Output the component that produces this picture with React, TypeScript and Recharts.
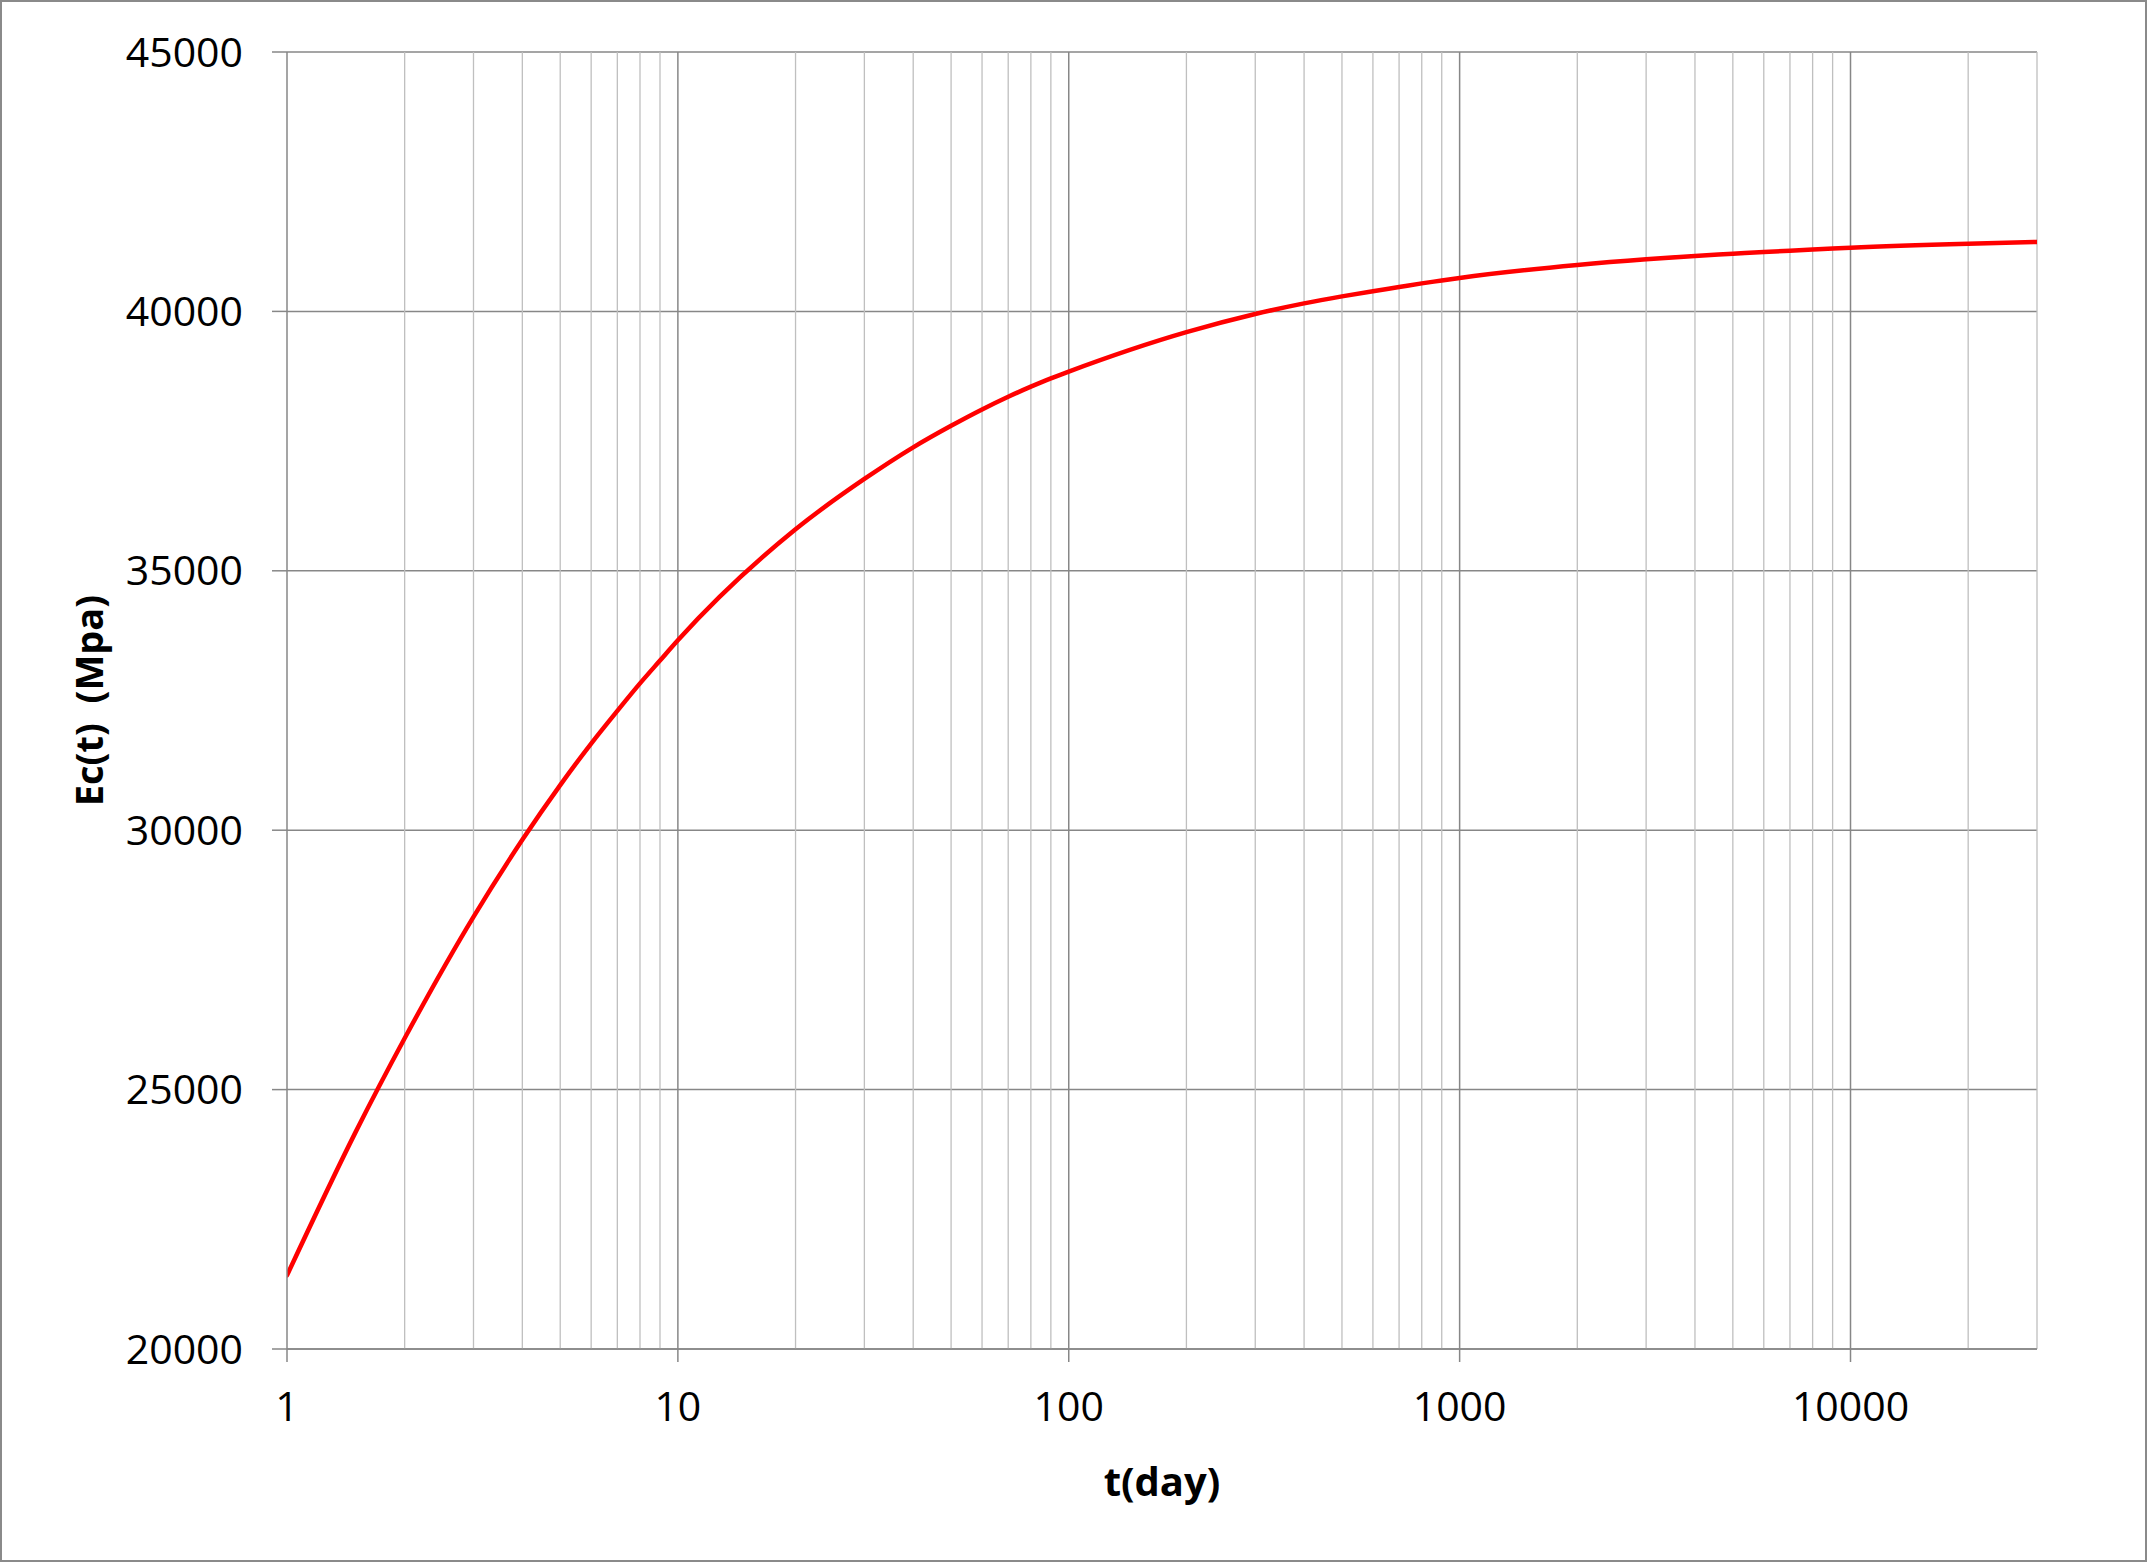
import { LineChart, Line, XAxis, YAxis, CartesianGrid, ReferenceLine, Label } from "recharts";

// t (day)
const days = [
  1, 1.5, 2, 3, 4, 5, 6, 7, 8, 9, 10, 20, 30, 40, 50, 60, 70, 80, 90, 100, 200, 300, 400, 500, 600, 700, 800,
  900, 1000, 2000, 3000, 4000, 5000, 6000, 7000, 8000, 9000, 10000, 20000, 30000,
];
// Ec(t) in Mpa
const modulus = [
  21420, 24190, 25990, 28330, 29815, 30870, 31670, 32300, 32830, 33270, 33660, 35800, 36770, 37380, 37795,
  38110, 38355, 38550, 38710, 38840, 39600, 39950, 40155, 40290, 40390, 40470, 40540, 40595, 40645, 40895,
  41005, 41070, 41110, 41145, 41170, 41192, 41212, 41228, 41305, 41338,
];

const xTicks = [1, 10, 100, 1000, 10000];
const yTicks = [20000, 25000, 30000, 35000, 40000, 45000];
const majorVerticals = [10, 100, 1000, 10000];
const minorVerticals = [
  2, 3, 4, 5, 6, 7, 8, 9, 20, 30, 40, 50, 60, 70, 80, 90, 200, 300, 400, 500, 600, 700, 800, 900, 2000, 3000,
  4000, 5000, 6000, 7000, 8000, 9000, 20000, 30000,
];

const data = days.map((t, i) => ({ t, e: modulus[i] }));

const MAJOR = "#878787";
const MINOR = "#bfbfbf";
const FONT = "'Open Sans', sans-serif";

const YTitle = (props: any) => {
  const vb = props.viewBox;
  const x = vb.x + 86;
  const y = vb.y + vb.height / 2;
  return (
    <text
      x={x}
      y={y}
      transform={`rotate(-90, ${x}, ${y})`}
      textAnchor="middle"
      dominantBaseline="central"
      style={{ whiteSpace: "pre" }}
      fontFamily={FONT}
      fontWeight={700}
      fontSize={38}
      fill="#000"
    >
      {"Ec(t)  (Mpa)"}
    </text>
  );
};

const XTitle = (props: any) => {
  const vb = props.viewBox;
  return (
    <text
      x={vb.x + vb.width / 2}
      y={vb.y + 131}
      textAnchor="middle"
      dominantBaseline="central"
      fontFamily={FONT}
      fontWeight={700}
      fontSize={40}
      fill="#000"
    >
      t(day)
    </text>
  );
};

export default function App() {
  return (
    <div
      style={{
        position: "absolute",
        left: 0,
        top: 0,
        width: 2147,
        height: 1562,
        border: "2px solid #8a8a8a",
        boxSizing: "border-box",
        background: "#fff",
      }}
    >
      <LineChart width={2143} height={1558} data={data} margin={{ top: 50, right: 108, left: 0, bottom: 100 }}>
        {minorVerticals.map((v) => (
          <ReferenceLine key={"m" + v} x={v} stroke={MINOR} strokeWidth={1.3} />
        ))}
        {majorVerticals.map((v) => (
          <ReferenceLine key={"M" + v} x={v} stroke={MAJOR} strokeWidth={1.5} />
        ))}
        <CartesianGrid vertical={false} stroke={MAJOR} strokeWidth={1.5} />
        <XAxis
          dataKey="t"
          type="number"
          scale="log"
          domain={[1, 30000]}
          allowDataOverflow
          ticks={xTicks}
          interval={0}
          tickSize={13}
          tickMargin={30}
          height={111}
          axisLine={{ stroke: MAJOR, strokeWidth: 1.5 }}
          tickLine={{ stroke: MAJOR, strokeWidth: 1.5 }}
          tick={{ fill: "#000", fontSize: 41, fontFamily: FONT }}
        >
          <Label content={<XTitle />} />
        </XAxis>
        <YAxis
          type="number"
          domain={[20000, 45000]}
          allowDataOverflow
          ticks={yTicks}
          interval={0}
          width={285}
          tickSize={15}
          tickMargin={29}
          axisLine={{ stroke: MAJOR, strokeWidth: 1.5 }}
          tickLine={{ stroke: MAJOR, strokeWidth: 1.5 }}
          tick={{ fill: "#000", fontSize: 41, fontFamily: FONT }}
        >
          <Label content={<YTitle />} />
        </YAxis>
        <Line
          type="monotone"
          dataKey="e"
          stroke="#ff0000"
          strokeWidth={4.5}
          strokeLinecap="round"
          dot={false}
          activeDot={false}
          isAnimationActive={false}
        />
      </LineChart>
    </div>
  );
}
